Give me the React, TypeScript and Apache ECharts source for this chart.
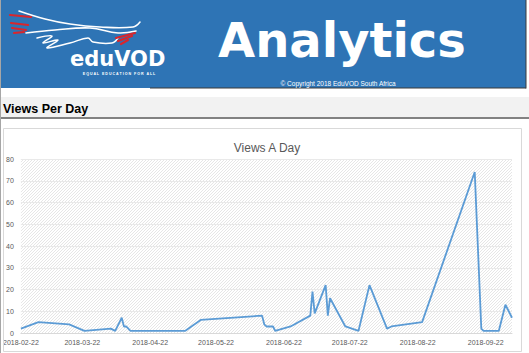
import React, { useEffect, useRef } from "react";
import * as echarts from "echarts";

const pageTitle = "Analytics";
const brand = "eduVOD";
const tagline = "E Q U A L   E D U C A T I O N   F O R   A L L";
const copyright = "© Copyright 2018 EduVOD South Africa";
const sectionTitle = "Views Per Day";
const chartTitle = "Views A Day";

const dates = [
  "2018-02-22", "2018-03-02", "2018-03-16", "2018-03-23", "2018-04-04", "2018-04-06",
  "2018-04-09", "2018-04-10", "2018-04-11", "2018-04-13", "2018-05-08", "2018-05-15",
  "2018-06-12", "2018-06-13", "2018-06-14", "2018-06-17", "2018-06-18", "2018-06-25",
  "2018-07-04", "2018-07-05", "2018-07-06", "2018-07-11", "2018-07-12", "2018-07-13",
  "2018-07-20", "2018-07-26", "2018-07-31", "2018-08-08", "2018-08-10", "2018-08-24",
  "2018-09-17", "2018-09-20", "2018-09-21", "2018-09-28", "2018-10-01", "2018-10-04",
];
const views = [
  2, 5, 4, 1, 2, 1,
  7, 3, 3, 1, 1, 6,
  8, 4, 3, 3, 1, 3,
  8, 19, 9, 22, 8, 16,
  3, 1, 22, 2, 3, 5,
  74, 2, 1, 1, 13, 7,
];
const xTickDates = [
  "2018-02-22", "2018-03-22", "2018-04-22", "2018-05-22",
  "2018-06-22", "2018-07-22", "2018-08-22", "2018-09-22",
];
const yMin = 0;
const yMax = 80;
const yStep = 10;

function ts(s: string): number {
  const [y, m, d] = s.split("-").map(Number);
  return new Date(y, m - 1, d).getTime();
}
function fmt(v: number): string {
  const d = new Date(v);
  const p = (n: number) => (n < 10 ? "0" + n : "" + n);
  return d.getFullYear() + "-" + p(d.getMonth() + 1) + "-" + p(d.getDate());
}

function makePattern(): HTMLCanvasElement {
  const c = document.createElement("canvas");
  c.width = 3;
  c.height = 3;
  const ctx = c.getContext("2d")!;
  ctx.fillStyle = "#ffffff";
  ctx.fillRect(0, 0, 3, 3);
  ctx.strokeStyle = "#e3e3e3";
  ctx.lineWidth = 0.9;
  ctx.beginPath();
  ctx.moveTo(-1, 4);
  ctx.lineTo(4, -1);
  ctx.moveTo(-1, 1);
  ctx.lineTo(1, -1);
  ctx.moveTo(2, 4);
  ctx.lineTo(4, 2);
  ctx.stroke();
  return c;
}

export default function App() {
  const ref = useRef<HTMLDivElement>(null);
  useEffect(() => {
    document.body.style.margin = "0";
    if (!ref.current) return;
    const chart = echarts.init(ref.current, undefined, { renderer: "svg" });
    const white = "#ffffff";
    const red = "#d9262c";
    const wLine = (points: number[][], w = 1.6) => ({
      type: "polyline",
      shape: { points, smooth: 0.4 },
      style: { stroke: white, lineWidth: w, fill: "none", lineCap: "round" },
      z: 101,
    });
    const rLine = (x1: number, y1: number, x2: number, y2: number) => ({
      type: "line",
      shape: { x1, y1, x2, y2 },
      style: { stroke: red, lineWidth: 2.2, lineCap: "round" },
      z: 101,
    });
    chart.setOption({
      animation: false,
      title: {
        text: chartTitle,
        left: 262,
        top: 137,
        textAlign: "center",
        textStyle: { fontFamily: "Liberation Sans", fontSize: 12, fontWeight: "normal", color: "#595959" },
      },
      grid: {
        left: 19,
        right: 17,
        top: 159,
        bottom: 20,
        show: true,
        backgroundColor: { image: makePattern(), repeat: "repeat" },
        borderWidth: 0,
      },
      xAxis: {
        type: "value",
        min: ts(dates[0]),
        max: ts(dates[dates.length - 1]),
        axisLine: { show: true, lineStyle: { color: "#d9d9d9" } },
        axisTick: { show: false },
        splitLine: { show: false },
        axisLabel: {
          customValues: xTickDates.map(ts),
          formatter: (v: number) => fmt(v),
          fontFamily: "Liberation Sans",
          fontSize: 7,
          color: "#595959",
          margin: 6,
          hideOverlap: false,
        },
      },
      yAxis: {
        type: "value",
        min: yMin,
        max: yMax,
        interval: yStep,
        axisLine: { show: false },
        axisTick: { show: false },
        splitLine: { lineStyle: { color: "#e9e9e9", width: 1 } },
        axisLabel: { fontFamily: "Liberation Sans", fontSize: 7, color: "#595959", margin: 7 },
      },
      series: [
        {
          type: "line",
          data: dates.map((d, i) => [ts(d), views[i]]),
          showSymbol: false,
          lineStyle: { color: "#5b9bd5", width: 1.8 },
          itemStyle: { color: "#5b9bd5" },
        },
      ],
      graphic: [
        { type: "line", shape: { x1: 0.5, y1: 0, x2: 0.5, y2: 353 }, style: { stroke: "#a6a6a6", lineWidth: 1 }, z: 100 },
        { type: "rect", shape: { x: 1, y: 0, width: 525, height: 88 }, style: { fill: "#2e74b5" }, z: 100 },
        { type: "line", shape: { x1: 150, y1: 88, x2: 526, y2: 88 }, style: { stroke: "#3a3a3a", lineWidth: 1.2 }, z: 100 },
        { type: "line", shape: { x1: 526, y1: 0, x2: 526, y2: 88.5 }, style: { stroke: "#3a3a3a", lineWidth: 1 }, z: 100 },
        wLine([[19, 11], [45, 19], [70, 24], [100, 27], [133, 27], [140, 22]]),
        wLine([[26, 33], [55, 30], [90, 28], [118, 33], [136, 31]]),
        wLine([[37, 38], [52, 36], [43, 43], [58, 40], [47, 48], [70, 43], [88, 38], [93, 42], [112, 43], [118, 38]], 1.4),
        rLine(10, 15, 31, 17),
        rLine(11, 23, 28, 25),
        rLine(12, 28, 26, 30),
        rLine(14, 33, 24, 32),
        rLine(116, 38, 135, 33),
        rLine(118, 41, 132, 36),
        rLine(121, 44, 128, 40),
        {
          type: "text",
          x: 70,
          y: 59,
          style: { text: brand, fill: white, font: "bold 21px 'DejaVu Sans'", textVerticalAlign: "middle" },
          z: 101,
        },
        {
          type: "text",
          x: 119,
          y: 74,
          style: { text: tagline, fill: white, font: "bold 3.6px 'Liberation Sans'", textAlign: "center", textVerticalAlign: "middle" },
          z: 101,
        },
        {
          type: "text",
          x: 218,
          y: 40,
          style: { text: pageTitle, fill: white, font: "bold 48px 'DejaVu Sans'", textVerticalAlign: "middle" },
          z: 101,
        },
        {
          type: "text",
          x: 338,
          y: 83,
          style: { text: copyright, fill: white, font: "6.5px 'Liberation Sans'", textAlign: "center", textVerticalAlign: "middle" },
          z: 101,
        },
        { type: "rect", shape: { x: 1, y: 97, width: 528, height: 20 }, style: { fill: "#f2f2f2" }, z: 100 },
        { type: "line", shape: { x1: 1, y1: 118, x2: 529, y2: 118 }, style: { stroke: "#595959", lineWidth: 1.5 }, z: 100 },
        {
          type: "text",
          x: 3,
          y: 109,
          style: { text: sectionTitle, fill: "#000000", font: "bold 12.5px 'Liberation Sans'", textVerticalAlign: "middle" },
          z: 101,
        },
        { type: "rect", shape: { x: 3.5, y: 128.5, width: 518, height: 223 }, style: { fill: "none", stroke: "#d9d9d9", lineWidth: 1 }, z: 100 },
      ],
    });
    return () => chart.dispose();
  }, []);
  return <div ref={ref} style={{ width: 529, height: 353 }} />;
}
